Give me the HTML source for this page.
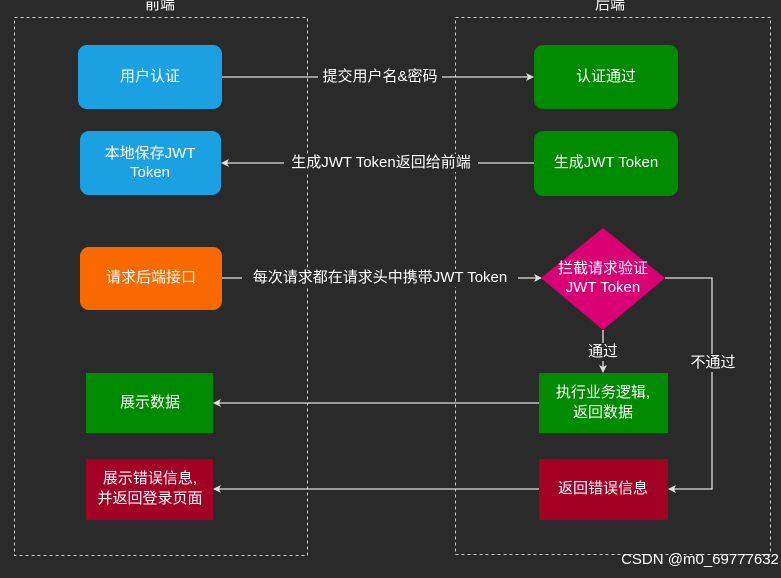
<!DOCTYPE html>
<html><head><meta charset="utf-8"><style>
body{margin:0;background:#2a2a2a;}
svg text{font-family:"Liberation Sans","Noto Sans CJK SC",sans-serif;fill:#fff;font-size:15px;text-anchor:middle;dominant-baseline:middle;}
</style></head><body>
<svg width="781" height="573" xmlns="http://www.w3.org/2000/svg">
<defs><marker id="a" markerWidth="8" markerHeight="8" refX="7" refY="4" orient="auto" markerUnits="userSpaceOnUse"><path d="M0,0 L8,4 L0,8 L2,4 Z" fill="#ddd"/></marker></defs>
<rect width="781" height="573" fill="#2a2a2a"/>
<rect x="14.5" y="17.5" width="293" height="538" fill="none" stroke="#ccc" stroke-dasharray="3,3"/>
<rect x="455.5" y="17.5" width="315" height="537" fill="none" stroke="#ccc" stroke-dasharray="3,3"/>
<text x="160" y="5" fill="#ddd">前端</text>
<text x="610" y="5" fill="#ddd">后端</text>
<g stroke="#ddd" stroke-width="1.3" fill="none">
<line x1="222" y1="77" x2="533" y2="77" marker-end="url(#a)"/>
<line x1="534" y1="163" x2="222" y2="163" marker-end="url(#a)"/>
<line x1="222" y1="278" x2="541" y2="278" marker-end="url(#a)"/>
<line x1="603" y1="330" x2="603" y2="372" marker-end="url(#a)"/>
<polyline points="665,278 712,278 712,489 669,489" marker-end="url(#a)"/>
<line x1="539" y1="403" x2="214" y2="403" marker-end="url(#a)"/>
<line x1="539" y1="489" x2="214" y2="489" marker-end="url(#a)"/>
</g>
<g fill="#2a2a2a">
<rect x="318" y="68" width="124" height="18"/>
<rect x="284" y="154" width="194" height="18"/>
<rect x="242" y="269" width="276" height="18"/>
<rect x="586" y="343" width="34" height="18"/>
<rect x="690" y="354" width="46" height="18"/>
</g>
<text x="380" y="77">提交用户名&amp;密码</text>
<text x="381" y="163">生成JWT Token返回给前端</text>
<text x="380" y="278">每次请求都在请求头中携带JWT Token</text>
<text x="603" y="352">通过</text>
<text x="713" y="363">不通过</text>
<rect x="78" y="45" width="144" height="64" rx="9" fill="#1ba1e2"/>
<text x="150" y="77">用户认证</text>
<rect x="80" y="131" width="141" height="64" rx="9" fill="#1ba1e2"/>
<text x="150" y="154">本地保存JWT</text><text x="150" y="173">Token</text>
<rect x="80" y="247" width="142" height="63" rx="9" fill="#fa6800"/>
<text x="151" y="278">请求后端接口</text>
<rect x="534" y="45" width="144" height="64" rx="9" fill="#008a00"/>
<text x="606" y="77">认证通过</text>
<rect x="534" y="131" width="144" height="65" rx="9" fill="#008a00"/>
<text x="606" y="163">生成JWT Token</text>
<polygon points="603,228 665,278 603,330 541,278" fill="#d80073"/>
<text x="603" y="269">拦截请求验证</text><text x="603" y="288">JWT Token</text>
<rect x="539" y="373" width="129" height="60" fill="#008a00"/>
<text x="603" y="393">执行业务逻辑,</text><text x="603" y="413">返回数据</text>
<rect x="539" y="459" width="129" height="61" fill="#a20025"/>
<text x="603" y="489">返回错误信息</text>
<rect x="86" y="373" width="127" height="60" fill="#008a00"/>
<text x="150" y="403">展示数据</text>
<rect x="86" y="459" width="127" height="61" fill="#a20025"/>
<text x="150" y="479">展示错误信息,</text><text x="150" y="499">并返回登录页面</text>
<text x="700" y="560" font-size="13" fill="#bbb">CSDN @m0_69777632</text>
</svg>
</body></html>
